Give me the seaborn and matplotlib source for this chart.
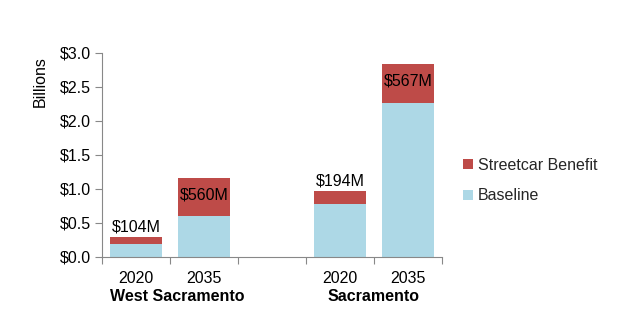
import matplotlib
matplotlib.use("Agg")
import matplotlib.pyplot as plt
import seaborn as sns
import pandas as pd
from matplotlib.ticker import FixedLocator, FuncFormatter

# Category slots (an empty slot separates the two cities)
slots = ["WS 2020", "WS 2035", "gap", "SAC 2020", "SAC 2035"]
bar_keys = ["WS 2020", "WS 2035", "SAC 2020", "SAC 2035"]
years = ["2020", "2035", "2020", "2035"]
cities = ["West Sacramento", "Sacramento"]

baseline = [0.19, 0.60, 0.78, 2.27]          # billions
benefit = [0.104, 0.560, 0.194, 0.567]       # billions
benefit_labels = ["$104M", "$560M", "$194M", "$567M"]
label_inside = [False, True, False, True]

RED = "#BE4B48"
BLUE = "#ADD8E6"
FS = 11.5

sns.set_theme(style="white")
plt.rcParams["font.family"] = ["Liberation Sans", "DejaVu Sans"]

df = pd.DataFrame({
    "slot": bar_keys,
    "baseline": baseline,
    "benefit": benefit,
})
df["total"] = df["baseline"] + df["benefit"]

fig = plt.figure(figsize=(6.29, 3.34), dpi=100)
ax = fig.add_axes([102 / 629, 77 / 334, 340 / 629, 204 / 334])

sns.barplot(data=df, x="slot", y="total", order=slots, color=RED,
            width=0.76, saturation=1, linewidth=0, ax=ax,
            label="Streetcar Benefit")
sns.barplot(data=df, x="slot", y="baseline", order=slots, color=BLUE,
            width=0.76, saturation=1, linewidth=0, ax=ax, label="Baseline")

ax.set_xlim(-0.5, 4.5)
ax.set_ylim(0, 3.0)
ax.set_yticks([0, 0.5, 1.0, 1.5, 2.0, 2.5, 3.0])
ax.yaxis.set_major_formatter(FuncFormatter(lambda v, p: f"${v:.1f}"))
ax.set_ylabel("Billions", fontsize=FS, color="black")
ax.yaxis.set_label_coords(-0.16, 0.86)

# Ticks at slot boundaries, year labels at bar centres
ax.xaxis.set_major_locator(FixedLocator([-0.5, 0.5, 1.5, 2.5, 3.5, 4.5]))
ax.set_xticklabels([""] * 6)
centres = [slots.index(k) for k in bar_keys]
ax.xaxis.set_minor_locator(FixedLocator(centres))
ax.set_xticklabels(years, minor=True)
ax.tick_params(axis="x", which="major", length=5, width=0.8, color="#888888",
               direction="out", bottom=True)
ax.tick_params(axis="x", which="minor", length=0, pad=10, labelsize=FS,
               labelcolor="black")
ax.tick_params(axis="y", length=5, width=0.8, color="#888888", direction="out",
               left=True, labelsize=FS, labelcolor="black", pad=3)
ax.set_xlabel("")

for side in ["top", "right"]:
    ax.spines[side].set_visible(False)
for side in ["left", "bottom"]:
    ax.spines[side].set_color("#888888")
    ax.spines[side].set_linewidth(0.8)

# City names under the year labels
city_pos = [0.6, 3.5]
for name, xc in zip(cities, city_pos):
    ax.text(xc, -0.155, name, transform=ax.get_xaxis_transform(), ha="center",
            va="top", fontsize=FS, fontweight="bold", color="black")

# Benefit labels
for xc, b, t, lab, inside in zip(centres, baseline, df["total"], benefit_labels,
                                 label_inside):
    if inside:
        ax.text(xc, t - 0.14, lab, ha="center", va="top", fontsize=FS,
                color="black")
    else:
        ax.text(xc, t + 0.03, lab, ha="center", va="bottom", fontsize=FS,
                color="black")

handles, labels = ax.get_legend_handles_labels()
leg = ax.legend(handles, labels, loc="center left", bbox_to_anchor=(1.02, 0.375),
                frameon=False, fontsize=FS, handlelength=0.6,
                handleheight=0.6, handletextpad=0.3, labelspacing=1.0)

fig.savefig("out.png", dpi=100)
